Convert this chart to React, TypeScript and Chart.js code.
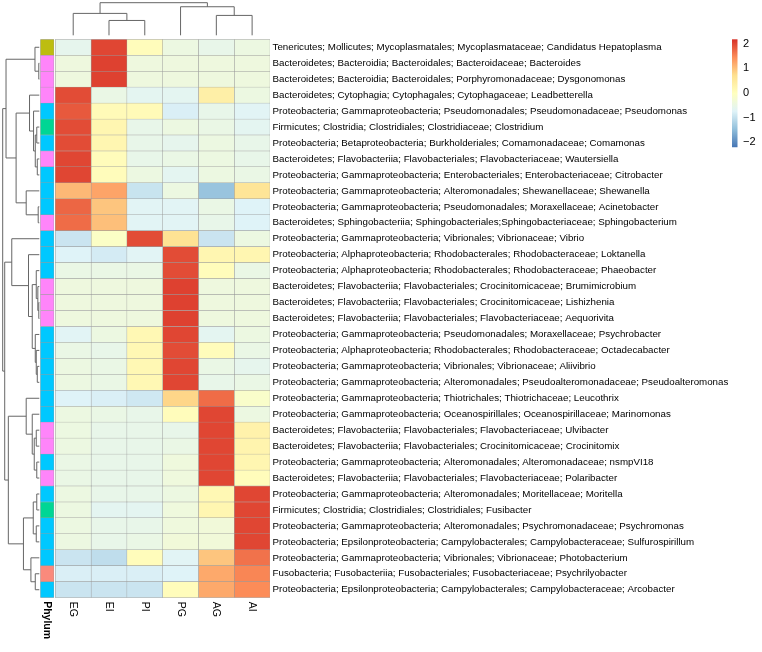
import React, { useEffect, useRef } from "react";
import { Chart, registerables } from "chart.js";
Chart.register(...registerables);

// ---------------- data ----------------
const COLUMNS = ["EG", "EI", "PI", "PG", "AG", "AI"];

const TAXA = [
  "Tenericutes; Mollicutes; Mycoplasmatales; Mycoplasmataceae; Candidatus Hepatoplasma",
  "Bacteroidetes; Bacteroidia; Bacteroidales; Bacteroidaceae; Bacteroides",
  "Bacteroidetes; Bacteroidia; Bacteroidales; Porphyromonadaceae; Dysgonomonas",
  "Bacteroidetes; Cytophagia; Cytophagales; Cytophagaceae; Leadbetterella",
  "Proteobacteria; Gammaproteobacteria; Pseudomonadales; Pseudomonadaceae; Pseudomonas",
  "Firmicutes; Clostridia; Clostridiales; Clostridiaceae; Clostridium",
  "Proteobacteria; Betaproteobacteria; Burkholderiales; Comamonadaceae; Comamonas",
  "Bacteroidetes; Flavobacteriia; Flavobacteriales; Flavobacteriaceae; Wautersiella",
  "Proteobacteria; Gammaproteobacteria; Enterobacteriales; Enterobacteriaceae; Citrobacter",
  "Proteobacteria; Gammaproteobacteria; Alteromonadales; Shewanellaceae; Shewanella",
  "Proteobacteria; Gammaproteobacteria; Pseudomonadales; Moraxellaceae; Acinetobacter",
  "Bacteroidetes; Sphingobacteriia; Sphingobacteriales;Sphingobacteriaceae; Sphingobacterium",
  "Proteobacteria; Gammaproteobacteria; Vibrionales; Vibrionaceae; Vibrio",
  "Proteobacteria; Alphaproteobacteria; Rhodobacterales; Rhodobacteraceae; Loktanella",
  "Proteobacteria; Alphaproteobacteria; Rhodobacterales; Rhodobacteraceae; Phaeobacter",
  "Bacteroidetes; Flavobacteriia; Flavobacteriales; Crocinitomicaceae; Brumimicrobium",
  "Bacteroidetes; Flavobacteriia; Flavobacteriales; Crocinitomicaceae; Lishizhenia",
  "Bacteroidetes; Flavobacteriia; Flavobacteriales; Flavobacteriaceae; Aequorivita",
  "Proteobacteria; Gammaproteobacteria; Pseudomonadales; Moraxellaceae; Psychrobacter",
  "Proteobacteria; Alphaproteobacteria; Rhodobacterales; Rhodobacteraceae; Octadecabacter",
  "Proteobacteria; Gammaproteobacteria; Vibrionales; Vibrionaceae; Aliivibrio",
  "Proteobacteria; Gammaproteobacteria; Alteromonadales; Pseudoalteromonadaceae; Pseudoalteromonas",
  "Proteobacteria; Gammaproteobacteria; Thiotrichales; Thiotrichaceae; Leucothrix",
  "Proteobacteria; Gammaproteobacteria; Oceanospirillales; Oceanospirillaceae; Marinomonas",
  "Bacteroidetes; Flavobacteriia; Flavobacteriales; Flavobacteriaceae; Ulvibacter",
  "Bacteroidetes; Flavobacteriia; Flavobacteriales; Crocinitomicaceae; Crocinitomix",
  "Proteobacteria; Gammaproteobacteria; Alteromonadales; Alteromonadaceae; nsmpVI18",
  "Bacteroidetes; Flavobacteriia; Flavobacteriales; Flavobacteriaceae; Polaribacter",
  "Proteobacteria; Gammaproteobacteria; Alteromonadales; Moritellaceae; Moritella",
  "Firmicutes; Clostridia; Clostridiales; Clostridiales; Fusibacter",
  "Proteobacteria; Gammaproteobacteria; Alteromonadales; Psychromonadaceae; Psychromonas",
  "Proteobacteria; Epsilonproteobacteria; Campylobacterales; Campylobacteraceae; Sulfurospirillum",
  "Proteobacteria; Gammaproteobacteria; Vibrionales; Vibrionaceae; Photobacterium",
  "Fusobacteria; Fusobacteriia; Fusobacteriales; Fusobacteriaceae; Psychrilyobacter",
  "Proteobacteria; Epsilonproteobacteria; Campylobacterales; Campylobacteraceae; Arcobacter",
];

// row-scaled values (z-scores), one array per column, in row order
const Z_EG = [-0.6, -0.41, -0.41, 1.95, 1.85, 1.95, 1.95, 2.0, 2.0, 1.06, 1.75, 1.7, -0.95, -0.75, -0.5, -0.41, -0.41, -0.41, -0.7, -0.5, -0.45, -0.45, -0.75, -0.45, -0.45, -0.45, -0.5, -0.5, -0.45, -0.45, -0.45, -0.45, -0.95, -0.8, -0.95];
const Z_EI = [2.0, 2.04, 2.04, -0.5, 0.1, 0.2, 0.2, 0.05, 0.05, 1.24, 0.95, 1.0, -0.1, -0.85, -0.5, -0.41, -0.41, -0.41, -0.45, -0.55, -0.5, -0.5, -0.8, -0.5, -0.55, -0.55, -0.55, -0.55, -0.55, -0.65, -0.55, -0.55, -1.05, -0.8, -0.95];
const Z_PI = [0.05, -0.41, -0.41, -0.65, 0.1, -0.55, -0.55, -0.55, -0.45, -0.96, -0.7, -0.7, 1.95, -0.7, -0.5, -0.41, -0.41, -0.41, 0.15, 0.15, 0.15, 0.15, -0.9, -0.55, -0.55, -0.55, -0.55, -0.55, -0.55, -0.65, -0.55, -0.5, 0.05, -0.8, -0.95];
const Z_PG = [-0.45, -0.41, -0.41, -0.65, -0.8, -0.45, -0.6, -0.5, -0.65, -0.45, -0.7, -0.7, 0.65, 1.95, 1.95, 2.04, 2.04, 2.04, 2.0, 1.95, 2.0, 2.0, 0.8, 0.05, -0.55, -0.5, -0.4, -0.4, -0.45, -0.4, -0.4, -0.35, -0.7, -0.75, 0.05];
const Z_AG = [-0.55, -0.41, -0.41, 0.35, -0.55, -0.5, -0.45, -0.45, -0.45, -1.4, -0.5, -0.55, -0.95, 0.2, 0.05, -0.41, -0.41, -0.41, -0.65, 0.05, -0.5, -0.55, 1.7, 2.0, 2.0, 2.0, 2.0, 2.0, 0.15, 0.2, -0.35, -0.35, 0.95, 1.2, 1.2];
const Z_AI = [-0.45, -0.41, -0.41, -0.45, -0.7, -0.65, -0.55, -0.55, -0.5, 0.6, -0.75, -0.75, -0.45, 0.2, -0.5, -0.41, -0.41, -0.41, -0.45, -0.5, -0.6, -0.5, -0.15, -0.45, 0.3, 0.25, 0.2, 0.05, 2.0, 2.0, 2.0, 2.0, 1.65, 1.5, 1.45];

// row dendrogram (hclust-style merges: negative = leaf index+1, positive = earlier merge number)
const ROW_MERGES = [
  [-2, -3], [-1, 1], [-6, -7], [-8, -9], [3, 4], [-5, 5], [-4, 6], [-11, -12], [-10, 8], [7, 9], [2, 10],
  [-17, -18], [-16, 12], [-15, 13], [-21, -22], [-20, 15], [-19, 16], [14, 17], [-14, 18], [-13, 19],
  [-25, -26], [-27, -28], [21, 22], [-24, 23], [-23, 24],
  [-29, -30], [-31, -32], [26, 27], [-34, -35], [-33, 29], [28, 30], [25, 31], [20, 32], [11, 33],
];
const ROW_HEIGHTS = [
  0.014, 0.118, 0.069, 0.055, 0.11, 0.157, 0.267, 0.03, 0.358, 0.634, 0.909,
  0.014, 0.04, 0.083, 0.055, 0.083, 0.11, 0.193, 0.295, 0.752,
  0.083, 0.069, 0.138, 0.193, 0.358,
  0.069, 0.083, 0.165, 0.11, 0.229, 0.433, 0.846, 0.945, 1.0,
];
const COL_MERGES = [[-2, -3], [-1, 1], [-5, -6], [-4, 3], [2, 4]];
const COL_HEIGHTS = [0.455, 0.672, 0.61, 0.876, 1.0];

const PHYLUM_COLORS: Record<string, string> = {
  Tenericutes: "#BDBD10",
  Bacteroidetes: "#FF85FA",
  Proteobacteria: "#00C8FF",
  Firmicutes: "#00D694",
  Fusobacteria: "#FA8A7C",
};

const LEGEND_TICKS = [2, 1, 0, -1, -2];
const LEGEND_MIN = -2.2;
const LEGEND_MAX = 2.17;
const PALETTE = ["#4575B4", "#91BFDB", "#E0F3F8", "#FFFFBF", "#FEE090", "#FC8D59", "#D73027"];

// ---------------- helpers ----------------
function hexToRgb(h: string) {
  const n = parseInt(h.slice(1), 16);
  return [(n >> 16) & 255, (n >> 8) & 255, n & 255];
}
function colorFor(v: number) {
  let f = (v - LEGEND_MIN) / (LEGEND_MAX - LEGEND_MIN);
  f = Math.max(0, Math.min(1, f));
  const seg = f * (PALETTE.length - 1);
  const i = Math.min(PALETTE.length - 2, Math.floor(seg));
  const t = seg - i;
  const a = hexToRgb(PALETTE[i]);
  const b = hexToRgb(PALETTE[i + 1]);
  const c = a.map((x, k) => Math.round(x + (b[k] - x) * t));
  return `rgb(${c[0]},${c[1]},${c[2]})`;
}

function dendroSegments(merges: number[][], heights: number[], leafPos: (i: number) => number) {
  const pos: number[] = [];
  const ht: number[] = [];
  const segs: number[][] = [];
  const get = (r: number) => (r < 0 ? { p: leafPos(-r - 1), h: 0 } : { p: pos[r - 1], h: ht[r - 1] });
  merges.forEach(([a, b], k) => {
    const A = get(a);
    const B = get(b);
    const h = heights[k];
    segs.push([A.p, A.h, A.p, h], [A.p, h, B.p, h], [B.p, h, B.p, B.h]);
    pos.push((A.p + B.p) / 2);
    ht.push(h);
  });
  return segs;
}

const FONT = "'Liberation Sans', Arial, Helvetica, sans-serif";
const W = 762;
const H = 652;
const ANN_RANGE = [-0.42, -0.04];

const overlayPlugin = {
  id: "heatmapExtras",
  afterDraw(chart: any) {
    const ctx = chart.ctx as CanvasRenderingContext2D;
    const xs = chart.scales.x;
    const ys = chart.scales.y;
    const area = chart.chartArea;
    ctx.save();
    // dendrograms
    ctx.strokeStyle = "#666666";
    ctx.lineWidth = 1;
    const leafX = area.left - 1;
    const rootX = 2.7;
    const rowSegs = dendroSegments(ROW_MERGES, ROW_HEIGHTS, (i) => ys.getPixelForValue(i));
    ctx.beginPath();
    rowSegs.forEach(([p1, h1, p2, h2]) => {
      ctx.moveTo(leafX - h1 * (leafX - rootX), p1);
      ctx.lineTo(leafX - h2 * (leafX - rootX), p2);
    });
    ctx.stroke();
    const leafY = area.top - 4;
    const rootY = 2.7;
    const colSegs = dendroSegments(COL_MERGES, COL_HEIGHTS, (j) => xs.getPixelForValue(j + 0.5));
    ctx.beginPath();
    colSegs.forEach(([p1, h1, p2, h2]) => {
      ctx.moveTo(p1, leafY - h1 * (leafY - rootY));
      ctx.lineTo(p2, leafY - h2 * (leafY - rootY));
    });
    ctx.stroke();

    // column labels (rotated clockwise)
    ctx.fillStyle = "#000";
    ctx.textAlign = "left";
    ctx.textBaseline = "middle";
    ctx.font = `10.5px ${FONT}`;
    COLUMNS.forEach((c, j) => {
      ctx.save();
      ctx.translate(xs.getPixelForValue(j + 0.5), area.bottom + 4);
      ctx.rotate(Math.PI / 2);
      ctx.fillText(c, 0, 0);
      ctx.restore();
    });
    ctx.font = `bold 10.5px ${FONT}`;
    ctx.save();
    ctx.translate(xs.getPixelForValue((ANN_RANGE[0] + ANN_RANGE[1]) / 2), area.bottom + 3.5);
    ctx.rotate(Math.PI / 2);
    ctx.fillText("Phylum", 0, 0);
    ctx.restore();

    // colour key
    const pxPerUnit = 24.7;
    const lTop = area.top;
    const lx = 732;
    const lw = 5.5;
    const yOf = (v: number) => lTop + (LEGEND_MAX - v) * pxPerUnit;
    const g = ctx.createLinearGradient(0, yOf(LEGEND_MAX), 0, yOf(LEGEND_MIN));
    PALETTE.forEach((c, i) => g.addColorStop(1 - i / (PALETTE.length - 1), c));
    ctx.fillStyle = g;
    ctx.fillRect(lx, yOf(LEGEND_MAX), lw, yOf(LEGEND_MIN) - yOf(LEGEND_MAX));
    ctx.fillStyle = "#000";
    ctx.font = `11px ${FONT}`;
    LEGEND_TICKS.forEach((v) => {
      const s = v < 0 ? "\u2212" + Math.abs(v) : String(v);
      ctx.fillText(s, 743, yOf(v));
    });
    ctx.restore();
  },
};

export default function App() {
  const ref = useRef<HTMLCanvasElement | null>(null);
  useEffect(() => {
    if (!ref.current) return;
    const cols = [Z_EG, Z_EI, Z_PI, Z_PG, Z_AG, Z_AI];
    const datasets: any[] = cols.map((vals, j) => ({
      label: COLUMNS[j],
      data: TAXA.map(() => [j, j + 1]),
      backgroundColor: vals.map(colorFor),
      borderColor: "#9a9a9a",
      borderWidth: 0.5,
      borderSkipped: false,
      barPercentage: 1,
      categoryPercentage: 1,
      grouped: false,
    }));
    datasets.push({
      label: "Phylum",
      data: TAXA.map(() => ANN_RANGE.slice()),
      backgroundColor: TAXA.map((t) => PHYLUM_COLORS[t.split(";")[0].trim()] || "#ccc"),
      borderColor: "#9a9a9a",
      borderWidth: 0.5,
      borderSkipped: false,
      barPercentage: 1,
      categoryPercentage: 1,
      grouped: false,
    });
    const chart = new Chart(ref.current, {
      type: "bar",
      data: { labels: TAXA, datasets },
      options: {
        animation: false,
        responsive: false,
        devicePixelRatio: 1,
        events: [],
        indexAxis: "y",
        layout: { padding: { left: 40.3, top: 39.3, bottom: 54.3, right: 0 } },
        plugins: { legend: { display: false }, tooltip: { enabled: false } },
        scales: {
          x: { type: "linear", min: ANN_RANGE[0], max: COLUMNS.length, display: false },
          y: {
            type: "category",
            position: "right",
            offset: true,
            grid: { display: false, drawTicks: false },
            border: { display: false },
            ticks: {
              autoSkip: false,
              color: "#000",
              padding: 2.5,
              font: { family: FONT, size: 9.75 },
            },
            afterFit: (s: any) => {
              s.width = W - 270;
            },
          },
        },
      },
      plugins: [overlayPlugin],
    } as any);
    return () => chart.destroy();
  }, []);
  return (
    <div style={{ position: "absolute", left: 0, top: 0, width: W, height: H, background: "#fff" }}>
      <canvas ref={ref} width={W} height={H} style={{ width: W, height: H, display: "block" }} />
    </div>
  );
}
